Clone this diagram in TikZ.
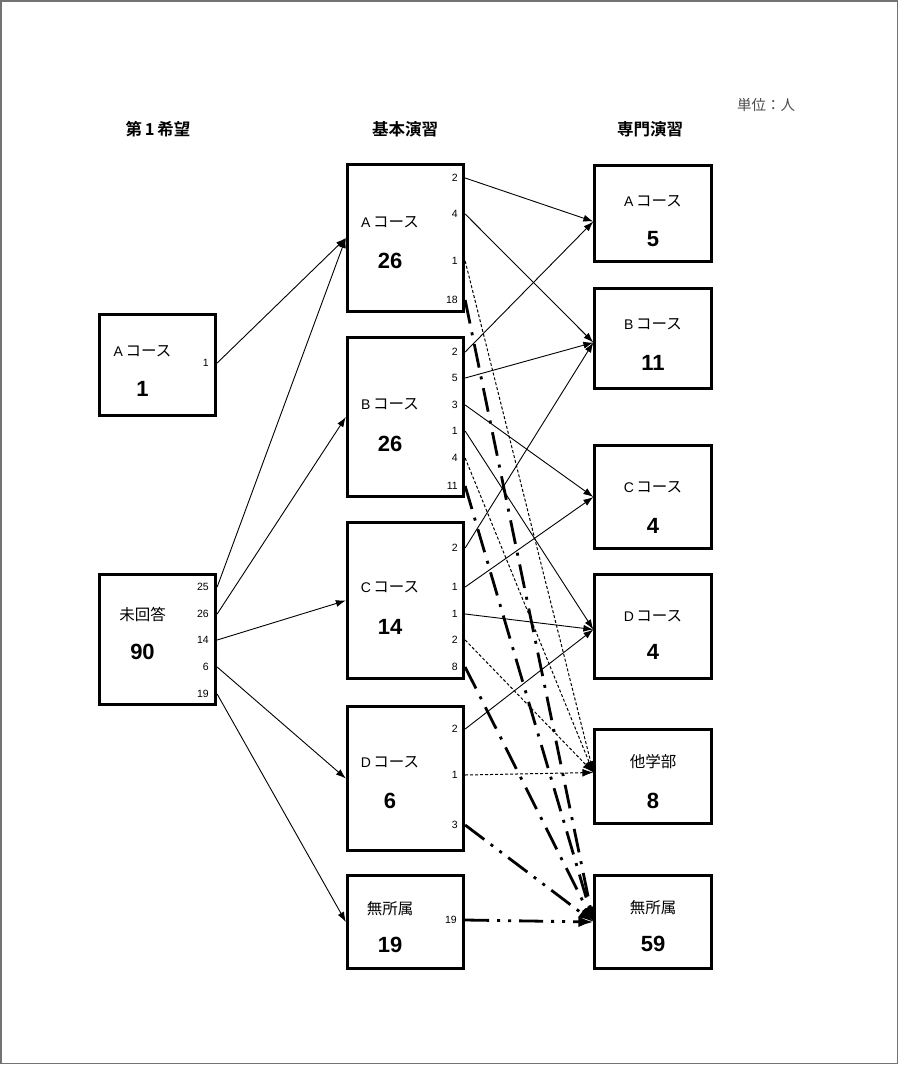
\documentclass[tikz,border=0pt]{standalone}
\usepackage{fontspec}
\setmainfont{Liberation Sans}
\newfontfamily\jp{Noto Sans CJK JP}[BoldFont={Noto Sans CJK JP Bold}]
\usetikzlibrary{arrows.meta,positioning}
\newcommand\lat[1]{{\rmfamily\fontsize{14}{16}\selectfont#1}\,}

\tikzset{
  box/.style={draw, line width=2.8pt, inner sep=0pt, minimum width=116.5pt},
  course/.style={font=\jp\fontsize{15.5}{18}\selectfont},
  total/.style={font=\bfseries\fontsize{22}{25}\selectfont},
  cnt/.style={font=\fontsize{10.5}{12}\selectfont, anchor=east, inner sep=0pt},
  head/.style={font=\jp\bfseries\fontsize{16.5}{19}\selectfont},
  unit/.style={font=\jp\fontsize{14.5}{17}\selectfont, text=black!70},
  flow/.style={line width=0.9pt, -{Latex[length=10pt,width=7pt]}},
  other/.style={line width=1pt, dash pattern=on 3pt off 2pt, -{Latex[length=11pt,width=8pt]}},
  nonea/.style={line width=2.8pt, dash pattern=on 24pt off 9pt on 3pt off 9pt, -{Latex[length=15pt,width=11pt]}},
  noneb/.style={line width=2.8pt, dash pattern=on 24pt off 8pt on 3pt off 8pt on 3pt off 8pt, -{Latex[length=15pt,width=11pt]}},
}

\begin{document}
\begin{tikzpicture}[x=1pt, y=-1pt]
    \useasboundingbox (0,0) rectangle (900,1066);
    % Frame
    \draw[black!55, line width=1.4pt] (1,1) rectangle (897.5,1063.5);
    % Headings
    \node[head] (h1) at (158,129) {第\,1\,希望};
    \node[head] (h2) at (405,129) {基本演習};
    \node[head] (h3) at (650,129) {専門演習};
    \node[unit] (unit) at (766,105) {単位：人};

    % First choice
    \node[box, minimum height=101.4pt] (lA) at (157.5,365) {};
    \node[box, minimum height=130.4pt] (lN) at (157.5,639.5) {};
    \node[course] (lAt) at (142.5,351) {\lat{A}コース};
    \node[total] (lAn) at (142.5,389) {1};
    \node[course] (lNt) at (142.5,614) {未回答};
    \node[total] (lNn) at (142.5,652) {90};
    \node[cnt] (lA1) at (209,363) {1};
    \foreach \n/\y [count=\i] in {25/587,26/614,14/640,6/667,19/694}
      \node[cnt] (lN\i) at (209,\y) {\n};

    % Basic seminar
    \node[box, minimum height=147.4pt] (mA) at (405.5,238) {};
    \node[box, minimum height=159.4pt] (mB) at (405.5,417) {};
    \node[box, minimum height=156.4pt] (mC) at (405.5,600.5) {};
    \node[box, minimum height=144.4pt] (mD) at (405.5,778.5) {};
    \node[box, minimum height=93.4pt] (mM) at (405.5,922) {};
    \node[course] (mAt) at (390,222) {\lat{A}コース};
    \node[total] (mAn) at (390,261) {26};
    \node[course] (mBt) at (390,404) {\lat{B}コース};
    \node[total] (mBn) at (390,444) {26};
    \node[course] (mCt) at (390,587) {\lat{C}コース};
    \node[total] (mCn) at (390,627) {14};
    \node[course] (mDt) at (390,762) {\lat{D}コース};
    \node[total] (mDn) at (390,801) {6};
    \node[course] (mMt) at (390,909) {無所属};
    \node[total] (mMn) at (390,945) {19};
    \foreach \n/\y [count=\i] in {2/178,4/214,1/261,18/300}
      \node[cnt] (mA\i) at (458,\y) {\n};
    \foreach \n/\y [count=\i] in {2/352,5/378,3/405,1/431,4/458,11/486}
      \node[cnt] (mB\i) at (458,\y) {\n};
    \foreach \n/\y [count=\i] in {2/548,1/587,1/614,2/640,8/667}
      \node[cnt] (mC\i) at (458,\y) {\n};
    \foreach \n/\y [count=\i] in {2/729,1/775,3/825}
      \node[cnt] (mD\i) at (458,\y) {\n};
    \node[cnt] (mM1) at (457,920) {19};

    % Special seminar
    \node[box, minimum height=96.4pt] (rA) at (653,213.5) {};
    \node[box, minimum height=100.4pt] (rB) at (653,338.5) {};
    \node[box, minimum height=103.4pt] (rC) at (653,497) {};
    \node[box, minimum height=104.4pt] (rD) at (653,626.5) {};
    \node[box, minimum height=94.4pt] (rO) at (653,776.5) {};
    \node[box, minimum height=93.4pt] (rM) at (653,922) {};
    \node[course] (rAt) at (653,201) {\lat{A}コース};
    \node[total] (rAn) at (653,239) {5};
    \node[course] (rBt) at (653,324) {\lat{B}コース};
    \node[total] (rBn) at (653,363) {11};
    \node[course] (rCt) at (653,487) {\lat{C}コース};
    \node[total] (rCn) at (653,526) {4};
    \node[course] (rDt) at (653,616) {\lat{D}コース};
    \node[total] (rDn) at (653,652) {4};
    \node[course] (rOt) at (653,762) {他学部};
    \node[total] (rOn) at (653,801) {8};
    \node[course] (rMt) at (653,908) {無所属};
    \node[total] (rMn) at (653,944) {59};
    \coordinate (rAin) at ([yshift=-8pt]rA.west);
    \coordinate (rBin) at ([yshift=-4pt]rB.west);
    \coordinate (rCin) at (rC.west);
    \coordinate (rDin) at ([yshift=-3pt]rD.west);
    \coordinate (rOin) at ([yshift=4pt]rO.west);
    \coordinate (rMin) at (rM.west);

    % Left to middle
    \draw[flow] (lA.east |- lA1) -- (mA.west);
    \draw[flow] (lN.east |- lN1) -- (mA.west);
    \draw[flow] (lN.east |- lN2) -- (mB.west);
    \draw[flow] (lN.east |- lN3) -- (mC.west);
    \draw[flow] (lN.east |- lN4) -- (mD.west);
    \draw[flow] (lN.east |- lN5) -- (mM.west);

    % Middle to right
    \draw[flow] (mA.east |- mA1) -- (rAin);
    \draw[flow] (mA.east |- mA2) -- (rBin);
    \draw[other] (mA.east |- mA3) -- (rOin);
    \draw[nonea] (mA.east |- mA4) -- (rMin);

    \draw[flow] (mB.east |- mB1) -- (rAin);
    \draw[flow] (mB.east |- mB2) -- (rBin);
    \draw[flow] (mB.east |- mB3) -- (rCin);
    \draw[flow] (mB.east |- mB4) -- (rDin);
    \draw[other] (mB.east |- mB5) -- (rOin);
    \draw[nonea] (mB.east |- mB6) -- (rMin);

    \draw[flow] (mC.east |- mC1) -- (rBin);
    \draw[flow] (mC.east |- mC2) -- (rCin);
    \draw[flow] (mC.east |- mC3) -- (rDin);
    \draw[other] (mC.east |- mC4) -- (rOin);
    \draw[nonea] (mC.east |- mC5) -- (rMin);

    \draw[flow] (mD.east |- mD1) -- (rDin);
    \draw[other] (mD.east |- mD2) -- (rOin);
    \draw[noneb] (mD.east |- mD3) -- (rMin);

    \draw[noneb] (mM.east |- mM1) -- (rMin);
\end{tikzpicture}
\end{document}
